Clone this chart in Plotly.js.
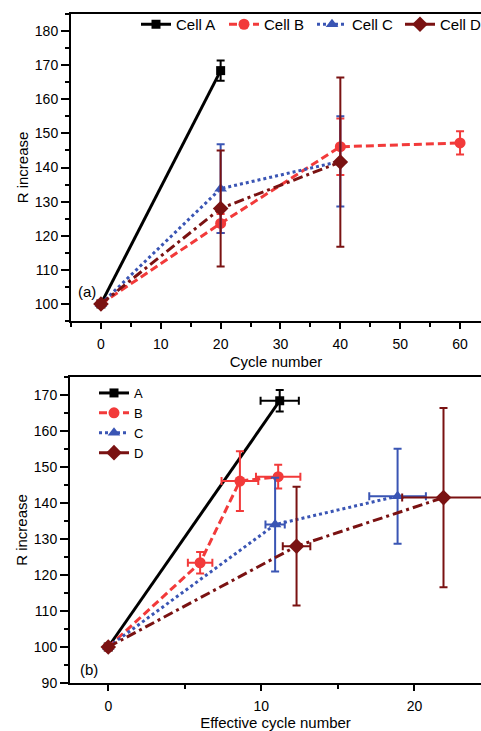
<!DOCTYPE html>
<html>
<head>
<meta charset="utf-8">
<script src="https://cdn.plot.ly/plotly-3.0.1.min.js"></script>
<style>
html, body { margin: 0; padding: 0; overflow: hidden; background: #fff; }
#chart { width: 481px; height: 731px; }
</style>
</head>
<body>
<div id="chart"></div>
<script>
// ---- Panel (a): R increase vs cycle number ----
const seriesNames = ['Cell A', 'Cell B', 'Cell C', 'Cell D'];
const seriesNamesB = ['A', 'B', 'C', 'D'];

const cycA = [0, 20];
const rA = [100, 168.4];
const rErrA = [0, 3.0];

const cycB = [0, 20, 40, 60];
const rB = [100, 123.6, 146.1, 147.2];
const rErrB = [0, 2.8, 8.3, 3.4];

const cycC = [0, 20, 40];
const rC = [100, 133.8, 141.8];
const rErrC = [0, 13.0, 13.2];

const cycD = [0, 20, 40];
const rD = [100, 128.0, 141.6];
const rErrD = [0, 17.0, 24.8];

// ---- Panel (b): R increase vs effective cycle number ----
const effA = [0, 11.2];
const effErrA = [0, 1.25];
const rA2 = [100, 168.4];
const rErrA2 = [0, 3.0];

const effB = [0, 6.0, 8.6, 11.1];
const effErrB = [0, 0.8, 1.2, 1.45];
const rB2 = [100, 123.4, 146.1, 147.3];
const rErrB2 = [0, 3.0, 8.3, 3.3];

const effC = [0, 10.9, 18.9];
const effErrC = [0, 0.63, 1.85];
const rC2 = [100, 134.0, 141.9];
const rErrC2 = [0, 13.0, 13.2];

const effD = [0, 12.3, 21.9];
const effErrD = [0, 0.9, 2.7];
const rD2 = [100, 128.0, 141.5];
const rErrD2 = [0, 16.5, 24.9];

const colors = ['#000000', '#f23a3a', '#3a55b4', '#7a1212'];
const symbols = ['square', 'circle', 'triangle-up', 'diamond'];
const msizes = [9, 11, 11, 12];
const dashes = ['solid', '8px,4px', '3px,3px', '10px,4px,3px,4px'];

const topX = [cycA, cycB, cycC, cycD];
const topY = [rA, rB, rC, rD];
const topErr = [rErrA, rErrB, rErrC, rErrD];
const botX = [effA, effB, effC, effD];
const botXErr = [effErrA, effErrB, effErrC, effErrD];
const botY = [rA2, rB2, rC2, rD2];
const botYErr = [rErrA2, rErrB2, rErrC2, rErrD2];

const traces = [];
for (let i = 0; i < 4; i++) {
  traces.push({
    type: 'scatter', mode: 'lines+markers', name: seriesNames[i],
    x: topX[i], y: topY[i], xaxis: 'x', yaxis: 'y', legend: 'legend',
    line: { color: colors[i], width: 3, dash: dashes[i] },
    marker: { color: colors[i], symbol: symbols[i], size: msizes[i] },
    error_y: { type: 'data', array: topErr[i], visible: true, color: colors[i], thickness: 2, width: 4 },
    cliponaxis: false
  });
}
for (let i = 0; i < 4; i++) {
  traces.push({
    type: 'scatter', mode: 'lines+markers', name: seriesNamesB[i],
    x: botX[i], y: botY[i], xaxis: 'x2', yaxis: 'y2', legend: 'legend2',
    line: { color: colors[i], width: 3, dash: dashes[i] },
    marker: { color: colors[i], symbol: symbols[i], size: msizes[i] },
    error_x: { type: 'data', array: botXErr[i], visible: true, color: colors[i], thickness: 2, width: 4 },
    error_y: { type: 'data', array: botYErr[i], visible: true, color: colors[i], thickness: 2, width: 4 },
    cliponaxis: false
  });
}

const W = 481, H = 731;
const xCommon = {
  showline: true, linewidth: 2, linecolor: '#000', mirror: true,
  ticks: 'outside', tickwidth: 2, tickcolor: '#000',
  showgrid: false, zeroline: false,
  tickfont: { size: 14, color: '#000' }
};
const yCommon = Object.assign({}, xCommon, { mirror: false });

const layout = {
  width: W, height: H,
  margin: { l: 0, r: 0, t: 0, b: 0, autoexpand: false },
  paper_bgcolor: '#fff', plot_bgcolor: '#fff',
  font: { family: 'Arial, "Liberation Sans", sans-serif', size: 14, color: '#000' },
  showlegend: true,
  xaxis: Object.assign({}, xCommon, {
    domain: [71 / W, 1], anchor: 'y', range: [-5, 63.5],
    tick0: 0, dtick: 10, ticklen: 6, ticklabelstandoff: 3,
    minor: { tick0: 0, dtick: 5, ticks: 'outside', ticklen: 4, tickwidth: 2, tickcolor: '#000' },
    title: { text: 'Cycle number', font: { size: 15 }, standoff: 6 }
  }),
  yaxis: Object.assign({}, yCommon, {
    domain: [1 - 321 / H, 1 - 14 / H], anchor: 'x', range: [95, 185],
    tick0: 100, dtick: 10, ticklen: 8,
    minor: { tick0: 95, dtick: 5, ticks: 'outside', ticklen: 4, tickwidth: 2, tickcolor: '#000' },
    title: { text: 'R increase', font: { size: 15 }, standoff: 3 }
  }),
  xaxis2: Object.assign({}, xCommon, {
    domain: [70 / W, 1], anchor: 'y2', range: [-2.5, 24.35],
    tick0: 0, dtick: 10, ticklen: 6, ticklabelstandoff: 3,
    minor: { tick0: 0, dtick: 5, ticks: 'outside', ticklen: 4, tickwidth: 2, tickcolor: '#000' },
    title: { text: 'Effective cycle number', font: { size: 15 }, standoff: 6 }
  }),
  yaxis2: Object.assign({}, yCommon, {
    domain: [1 - 683 / H, 1 - 377 / H], anchor: 'x2', range: [90, 175],
    tick0: 90, dtick: 10, ticklen: 8,
    minor: { tick0: 90, dtick: 5, ticks: 'outside', ticklen: 4, tickwidth: 2, tickcolor: '#000' },
    title: { text: 'R increase', font: { size: 15 }, standoff: 3 }
  }),
  legend: {
    orientation: 'h', x: 136 / W, y: 1 - 8 / H, xanchor: 'left', yanchor: 'top',
    bgcolor: 'rgba(0,0,0,0)', borderwidth: 0, font: { size: 15 },
    entrywidth: 43, entrywidthmode: 'pixels'
  },
  legend2: {
    orientation: 'v', x: 94 / W, y: 1 - 378 / H, xanchor: 'left', yanchor: 'top',
    bgcolor: 'rgba(0,0,0,0)', borderwidth: 0, font: { size: 13 }
  },
  annotations: [
    { text: '(a)', xref: 'paper', yref: 'paper', x: 87 / W, y: 1 - 292 / H, xanchor: 'center', yanchor: 'middle', showarrow: false, font: { size: 15 } },
    { text: '(b)', xref: 'paper', yref: 'paper', x: 89 / W, y: 1 - 669 / H, xanchor: 'center', yanchor: 'middle', showarrow: false, font: { size: 15 } }
  ]
};

Plotly.newPlot('chart', traces, layout, { displayModeBar: false, staticPlot: true });
</script>
</body>
</html>
